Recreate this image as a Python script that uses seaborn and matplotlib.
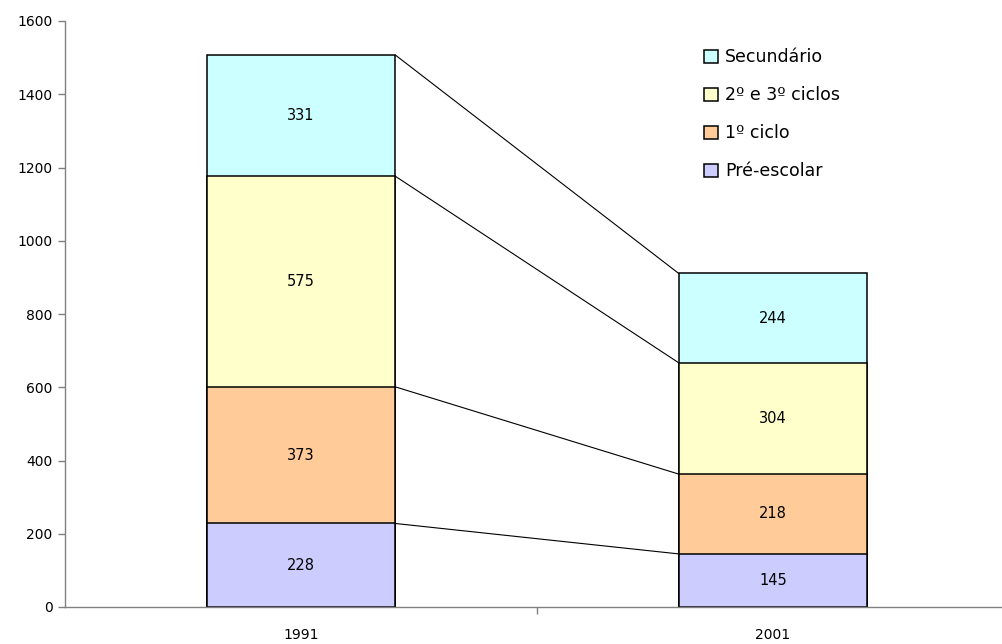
import numpy as np
import pandas as pd
import matplotlib
matplotlib.use("Agg")
import matplotlib.pyplot as plt
import seaborn as sns
from matplotlib.patches import Patch

years = ["1991", "2001"]
levels = ["Pré-escolar", "1º ciclo", "2º e 3º ciclos", "Secundário"]
pre_escolar = [228, 145]
primeiro_ciclo = [373, 218]
segundo_terceiro = [575, 304]
secundario = [331, 244]
colors = ["#CCCCFF", "#FFCC99", "#FFFFCC", "#CCFFFF"]
y_ticks = [0, 200, 400, 600, 800, 1000, 1200, 1400, 1600]

sns.set_theme(style="white")
plt.rcParams["font.family"] = ["DejaVu Sans"]
plt.rcParams["text.color"] = "black"
plt.rcParams["xtick.color"] = "black"
plt.rcParams["ytick.color"] = "black"

series = [pre_escolar, primeiro_ciclo, segundo_terceiro, secundario]
values = np.array(series, dtype=float)
cum = np.cumsum(values, axis=0)

fig = plt.figure(figsize=(10.02, 6.44), dpi=100)
ax = fig.add_axes([65 / 1002, 37 / 644, 937 / 1002, 586 / 644])

bar_w = 0.4
# Stacked bars: draw cumulative totals from the largest down so each layer shows its band
for i in range(len(levels) - 1, -1, -1):
    df = pd.DataFrame({"ano": years, "total": cum[i]})
    sns.barplot(data=df, x="ano", y="total", color=colors[i], width=bar_w,
                edgecolor="black", linewidth=1.1, saturation=1, ax=ax, zorder=2)

# Series lines joining segment tops between the two bars
for i in range(len(levels)):
    ax.plot([0 + bar_w / 2, 1 - bar_w / 2], [cum[i][0], cum[i][1]],
            color="black", linewidth=0.8, zorder=1)

# Value labels centred in each segment
for i in range(len(levels)):
    for j in range(len(years)):
        mid = cum[i][j] - values[i][j] / 2
        ax.text(j, mid, f"{int(values[i][j])}", ha="center", va="center",
                fontsize=10.5, color="black", zorder=3)

ax.set_ylim(0, 1600)
ax.set_xlim(-0.5, 1.5 - 7 / 473)
ax.set_yticks(y_ticks)
ax.set_yticklabels([str(t) for t in y_ticks], fontsize=10)
ax.set_xticks([0, 1])
ax.set_xticklabels(years, fontsize=10)
ax.set_xlabel("")
ax.set_ylabel("")

for side in ["top", "right"]:
    ax.spines[side].set_visible(False)
for side in ["left", "bottom"]:
    ax.spines[side].set_color("#808080")
    ax.spines[side].set_linewidth(1.0)

ax.tick_params(axis="y", which="both", left=True, length=5, width=1,
               color="#808080", labelcolor="black", pad=4, direction="out")
ax.tick_params(axis="x", which="major", bottom=False, pad=9, labelcolor="black")
# category boundary tick
ax.set_xticks([0.5], minor=True)
ax.tick_params(axis="x", which="minor", bottom=True, length=5, width=1,
               color="#808080", direction="out")

handles = [Patch(facecolor=colors[i], edgecolor="black", linewidth=1.1, label=levels[i])
           for i in range(len(levels) - 1, -1, -1)]
leg = ax.legend(handles=handles, loc="upper left", bbox_to_anchor=(0.675, 0.965),
                frameon=False, fontsize=12.5, handlelength=0.8, handleheight=0.8,
                handletextpad=0.4, labelspacing=1.15, borderaxespad=0)
for t in leg.get_texts():
    t.set_color("black")

fig.savefig("out.png", dpi=100)
